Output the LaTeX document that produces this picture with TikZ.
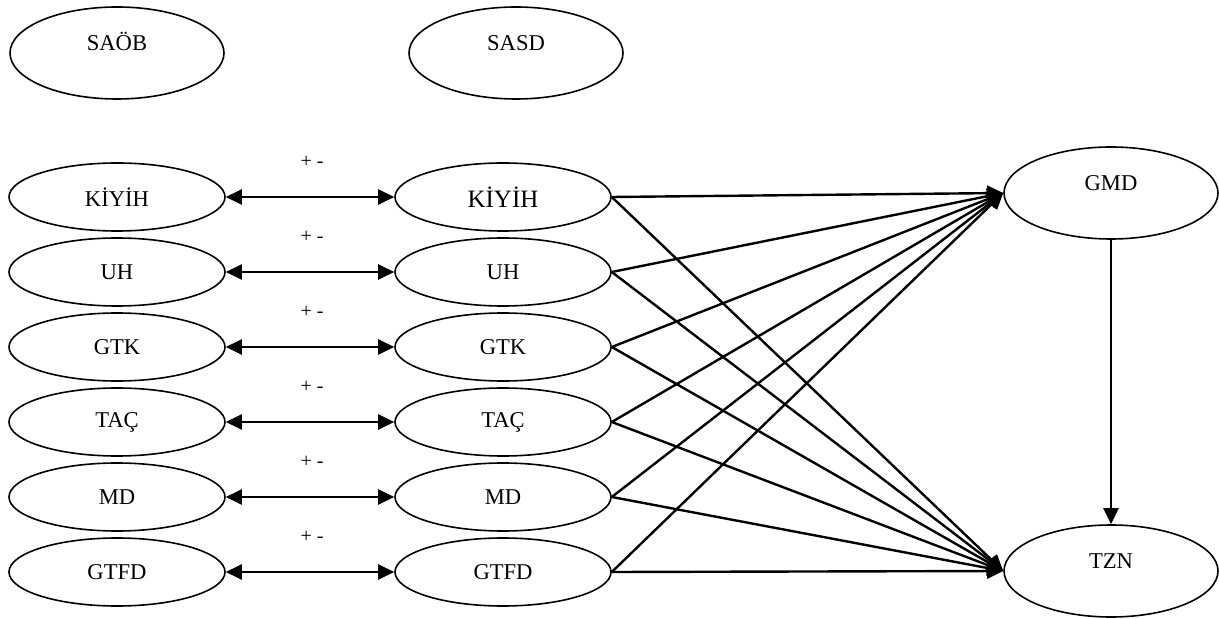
\documentclass[tikz,border=0pt]{standalone}
\usepackage{fontspec}
\setmainfont{Liberation Serif}
\usetikzlibrary{shapes.geometric,arrows.meta}

\begin{document}
\begin{tikzpicture}[x=0.5pt, y=-0.5pt,
  var/.style={ellipse, draw, line width=0.8pt, minimum width=108pt, minimum height=34pt, inner sep=0pt, font=\fontsize{11.3}{13}\selectfont},
  tallvar/.style={var, minimum width=107pt, minimum height=46pt, text height=8pt, text depth=10.5pt},
  link/.style={line width=1.2pt, -{Triangle[length=8pt,width=7.5pt]}},
  both/.style={line width=1.2pt, {Triangle[length=8pt,width=7.5pt]}-{Triangle[length=8pt,width=7.5pt]}},
  pm/.style={inner sep=0pt, font=\fontsize{10}{12}\selectfont}]
  \useasboundingbox (0,0) rectangle (1219,619);
  % top row
  \node[tallvar] (SAOB) at (117,53) {SAÖB};
  \node[tallvar] (SASD) at (516,53) {SASD};
  % left column
  \node[var] (KIYIHa) at (117,197) {KİYİH};
  \node[var] (UHa) at (117,272) {UH};
  \node[var] (GTKa) at (117,347) {GTK};
  \node[var] (TACa) at (117,422) {TAÇ};
  \node[var] (MDa) at (117,497) {MD};
  \node[var] (GTFDa) at (117,572) {GTFD};
  % middle column
  \node[var, font=\fontsize{12.5}{14}\selectfont] (KIYIHb) at (503,197) {KİYİH};
  \node[var] (UHb) at (503,272) {UH};
  \node[var] (GTKb) at (503,347) {GTK};
  \node[var] (TACb) at (503,422) {TAÇ};
  \node[var] (MDb) at (503,497) {MD};
  \node[var] (GTFDb) at (503,572) {GTFD};
  % right column
  \node[tallvar] (GMD) at (1111,193) {GMD};
  \node[tallvar] (TZN) at (1111,571) {TZN};
  % correlation labels
  \node[pm] (pmA) at (312,162) {+ -};
  \node[pm] (pmB) at (312,237) {+ -};
  \node[pm] (pmC) at (312,312) {+ -};
  \node[pm] (pmD) at (312,387) {+ -};
  \node[pm] (pmE) at (312,462) {+ -};
  \node[pm] (pmF) at (312,537) {+ -};
  % two-way links
  \draw[both] (KIYIHa) -- (KIYIHb);
  \draw[both] (UHa) -- (UHb);
  \draw[both] (GTKa) -- (GTKb);
  \draw[both] (TACa) -- (TACb);
  \draw[both] (MDa) -- (MDb);
  \draw[both] (GTFDa) -- (GTFDb);
  % paths to GMD
  \draw[link] (KIYIHb.east) -- (GMD.west);
  \draw[link] (UHb.east) -- (GMD.west);
  \draw[link] (GTKb.east) -- (GMD.west);
  \draw[link] (TACb.east) -- (GMD.west);
  \draw[link] (MDb.east) -- (GMD.west);
  \draw[link] (GTFDb.east) -- (GMD.west);
  % paths to TZN
  \draw[link] (KIYIHb.east) -- (TZN.west);
  \draw[link] (UHb.east) -- (TZN.west);
  \draw[link] (GTKb.east) -- (TZN.west);
  \draw[link] (TACb.east) -- (TZN.west);
  \draw[link] (MDb.east) -- (TZN.west);
  \draw[link] (GTFDb.east) -- (TZN.west);
  \draw[link] (GMD) -- (TZN);
\end{tikzpicture}
\end{document}
